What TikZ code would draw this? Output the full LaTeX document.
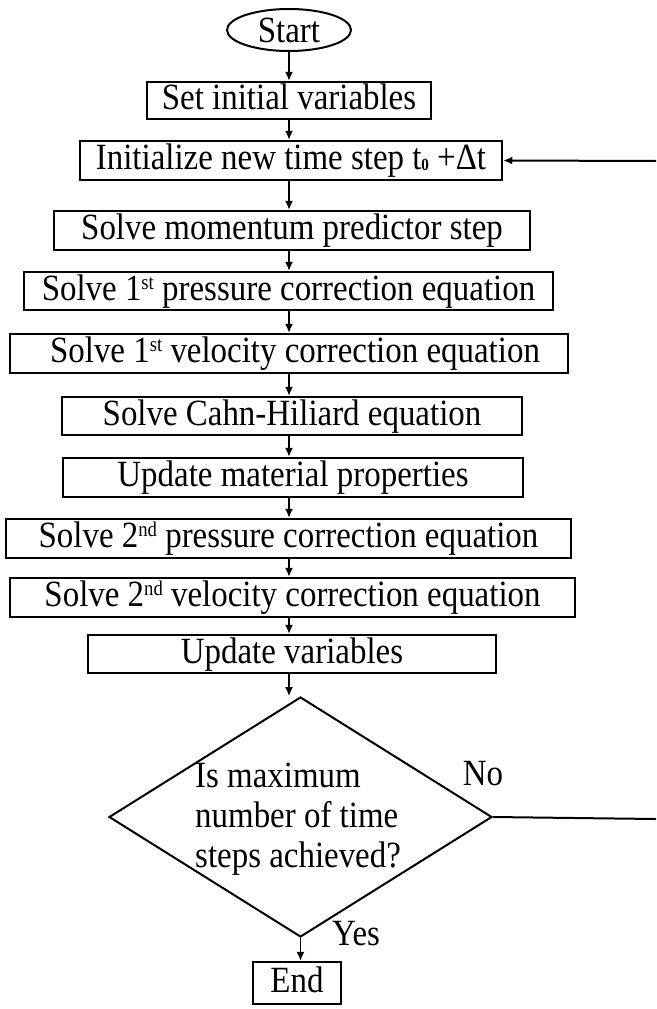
\documentclass[tikz,border=0pt]{standalone}
\usepackage{fontspec}
\setmainfont{Liberation Serif}[FakeStretch=0.89]
\usetikzlibrary{shapes.geometric,arrows.meta}
\newcommand{\supr}[1]{\raisebox{11pt}{\fontsize{21}{21}\selectfont #1}}
\newcommand{\subz}{\raisebox{-1pt}{\fontsize{17}{17}\selectfont\textbf{0}}}
\begin{document}
\begin{tikzpicture}[x=1pt,y=-1pt,
  every node/.style={font=\fontsize{37}{40}\selectfont},
  stepbox/.style={draw,line width=2.5pt,inner sep=0pt,anchor=center,text height=26pt,text depth=8pt},
  arr/.style={line width=1.3pt,-{Latex[length=9pt,width=8pt]}},
  link/.style={line width=2pt}]
\useasboundingbox (0,0) rectangle (656,1009);
\coordinate (col) at (289,0);
\node[draw,ellipse,line width=2pt,inner sep=0pt,minimum width=124,minimum height=42,text height=25pt,text depth=0pt] (start) at (289,30) {Start};
\node[stepbox,minimum width=284,minimum height=37] (set) at (289,100.5) {Set initial variables};
\node[stepbox,minimum width=422,minimum height=39] (init) at (291,160.5) {Initialize new time step t\subz{} +Δt};
\node[stepbox,minimum width=476,minimum height=39] (mom) at (292,230.5) {Solve momentum predictor step};
\node[stepbox,minimum width=529,minimum height=38] (p1) at (288.5,291) {Solve 1\supr{st} pressure correction equation};
\node[stepbox,minimum width=558,minimum height=39] (v1) at (289,353.5) {\hspace{12pt}Solve 1\supr{st} velocity correction equation};
\node[stepbox,minimum width=460,minimum height=38] (ch) at (292,416) {Solve Cahn-Hiliard equation};
\node[stepbox,minimum width=460,minimum height=39] (mat) at (293,477.5) {Update material properties\hspace{26pt}};
\node[stepbox,minimum width=565,minimum height=39] (p2) at (288.5,538.5) {Solve 2\supr{nd} pressure correction equation};
\node[stepbox,minimum width=565,minimum height=39] (v2) at (292.5,597.5) {Solve 2\supr{nd} velocity correction equation};
\node[stepbox,minimum width=408,minimum height=38] (uv) at (292,654) {Update variables};
\node[draw,diamond,line width=2pt,inner sep=0pt,minimum width=383,minimum height=240] (dia) at (300.5,817) {};
\node[align=left,inner sep=0pt,anchor=west] (q) at (195,819) {Is maximum\\number of time\\steps achieved?};
\node[stepbox,minimum width=88,minimum height=42] (end) at (297,983) {End};
\node[inner sep=0pt,anchor=base] (no) at (483,785) {No};
\node[inner sep=0pt,anchor=base] (yes) at (356,945) {Yes};
\coordinate (r1) at (656,819);
\coordinate (r2) at (656,161);
\draw[arr] (start.south -| col) -- (set.north -| col);
\draw[arr] (set.south -| col) -- (init.north -| col);
\draw[arr] (init.south -| col) -- (mom.north -| col);
\draw[arr] (mom.south -| col) -- (p1.north -| col);
\draw[arr] (p1.south -| col) -- (v1.north -| col);
\draw[arr] (v1.south -| col) -- (ch.north -| col);
\draw[arr] (ch.south -| col) -- (mat.north -| col);
\draw[arr] (mat.south -| col) -- (p2.north -| col);
\draw[arr] (p2.south -| col) -- (v2.north -| col);
\draw[arr] (v2.south -| col) -- (uv.north -| col);
\draw[arr] (uv.south -| col) -- (dia.north -| col);
\draw[arr] (dia.south) -- (end.north -| dia.south);
\draw[link] (dia.east) -- (r1);
\draw[arr,line width=2pt] (r2) -- (init.east);
\end{tikzpicture}
\end{document}
